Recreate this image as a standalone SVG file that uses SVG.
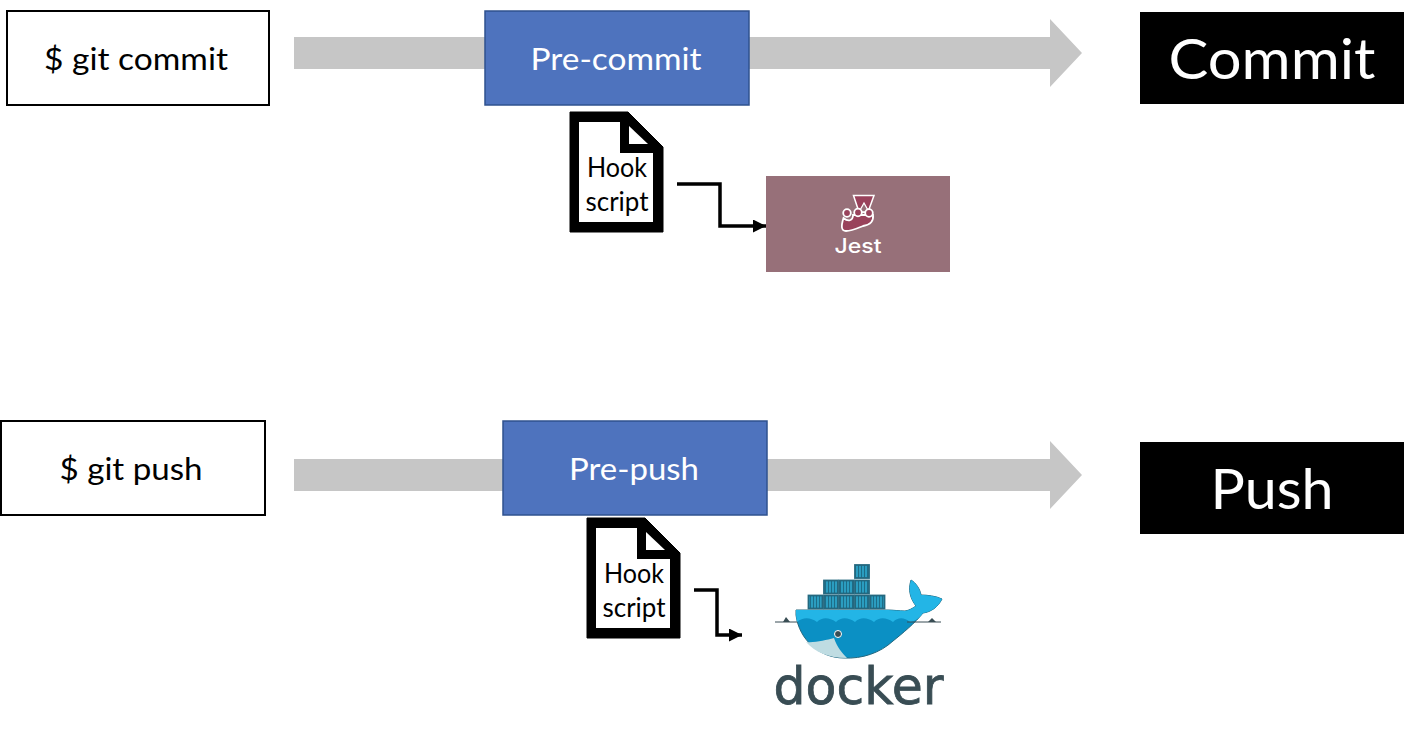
<svg xmlns="http://www.w3.org/2000/svg" width="1414" height="738" viewBox="0 0 1414 738">
<style>
text{font-family:Lato,"Open Sans","Noto Sans","Liberation Sans",sans-serif;text-anchor:middle}
.cmd{fill:#fff;stroke:#000;stroke-width:2}
.hook{fill:#4e73be;stroke:#2f528f;stroke-width:1.5}
.res{fill:#000}
.bar{fill:#c6c6c6}
.t{font-size:31px}
.w{fill:#fff}
.big{fill:#fff;font-size:57px}
.h{font-size:26px;fill:#000}
.elbow{fill:none;stroke:#000;stroke-width:3.5}
.frame{fill:#000;stroke:#000;stroke-width:1}
.c1{fill:url(#ribs);stroke:#24687f;stroke-width:1.800}
.boot{fill:#99425b;stroke:#fff;stroke-width:1.800}
</style>
<defs>
<marker id="ah" markerUnits="userSpaceOnUse" markerWidth="14" markerHeight="14" refX="13" refY="6.5" orient="auto"><path d="M0 0L13 6.5L0 13z" fill="#000"/></marker>
<pattern id="ribs" patternUnits="userSpaceOnUse" width="3" height="4"><rect width="3" height="4" fill="#2b9dc0"/><rect width="1" height="4" fill="#1d6d88"/></pattern>
<g id="doc">
<path class="frame" d="M0 0H58L93 35V120H0z"/>
<path fill="#fff" d="M9 10H50V41H83V110H9z"/>
<path fill="#fff" d="M59 14L78 32H59z"/>
</g>
</defs>

<g id="connectors">
<path class="bar" d="M294 37H1050V19L1082 53L1050 87V69H294z"/>
<path class="bar" d="M294 459H1050V441L1082 475L1050 509V491H294z"/>
<path class="elbow" d="M677 184H720V226H766" marker-end="url(#ah)"/>
<path class="elbow" d="M694 590H717V635H742" marker-end="url(#ah)"/>
</g>

<g id="git-commit"><rect class="cmd" x="7" y="11" width="262" height="94"/><text class="t" x="136" y="70" textLength="184" lengthAdjust="spacingAndGlyphs">$ git commit</text></g>
<g id="pre-commit"><rect class="hook" x="485" y="11" width="264" height="94"/><text class="t w" x="616" y="70" textLength="171" lengthAdjust="spacingAndGlyphs">Pre-commit</text></g>
<g id="commit"><rect class="res" x="1140" y="12" width="264" height="92"/><text class="big" x="1272" y="79" textLength="207" lengthAdjust="spacingAndGlyphs">Commit</text></g>

<g id="git-push"><rect class="cmd" x="1" y="421" width="264" height="94"/><text class="t" x="131" y="480" textLength="143" lengthAdjust="spacingAndGlyphs">$ git push</text></g>
<g id="pre-push"><rect class="hook" x="503" y="421" width="264" height="94"/><text class="t w" x="634" y="480" textLength="130" lengthAdjust="spacingAndGlyphs">Pre-push</text></g>
<g id="push"><rect class="res" x="1140" y="442" width="264" height="92"/><text class="big" x="1272" y="509" textLength="123" lengthAdjust="spacingAndGlyphs">Push</text></g>

<g id="hook-script-1"><use href="#doc" x="570" y="112"/><text class="h" x="617" y="177" textLength="60" lengthAdjust="spacingAndGlyphs">Hook</text><text class="h" x="617" y="211" textLength="63" lengthAdjust="spacingAndGlyphs">script</text></g>
<g id="hook-script-2"><use href="#doc" x="587" y="518"/><text class="h" x="634" y="583" textLength="60" lengthAdjust="spacingAndGlyphs">Hook</text><text class="h" x="634" y="617" textLength="63" lengthAdjust="spacingAndGlyphs">script</text></g>

<g id="jest">
<rect x="766" y="176" width="184" height="96" fill="#977079"/>
<path d="M853.500 195.500H874L868 212H859z" fill="#99425b" stroke="#fff" stroke-width="1.500"/>
<path d="M864 203L859 212H869z" fill="#977079" stroke="#fff" stroke-width="1.300"/>
<path class="boot" d="M843.500 218C841 226 841 231 846 231C852 231 858 228 863 226C869 225 874 222 873 215L853 215C853 221 848 222 843.500 218z"/>
<circle class="boot" cx="847" cy="213" r="3.800"/>
<circle class="boot" cx="858" cy="212.500" r="3.800"/>
<circle class="boot" cx="869" cy="213" r="3.800"/>
<text x="858" y="253" style="font-family:Inter,'Liberation Sans',sans-serif;font-size:20px;font-weight:500" fill="#fff" textLength="47" lengthAdjust="spacingAndGlyphs">Jest</text>
</g>

<g id="docker">
<g class="containers">
<rect class="c1" x="808.500" y="595.500" width="14" height="13"/><rect class="c1" x="824" y="595.500" width="14" height="13"/><rect class="c1" x="839.500" y="595.500" width="14" height="13"/><rect class="c1" x="855" y="595.500" width="14" height="13"/><rect class="c1" x="870.500" y="595.500" width="14" height="13"/>
<rect class="c1" x="824" y="580.500" width="14" height="13"/><rect class="c1" x="839.500" y="580.500" width="14" height="13"/><rect class="c1" x="855" y="580.500" width="14" height="13"/>
<rect class="c1" x="855" y="565" width="14" height="13"/>
</g>
<path d="M796 610H888C893 610 899 611 905 611C911 610 914 607 916 606C910 598 908 590 911 580C916 583 920 589 921 595C927 595 936 596 942 599C938 607 931 612 923 613C915 623 903 633 893 641C880 653 862 659 844 658C820 658 799 640 796 615z" fill="#0b90c4" stroke="#24687f" stroke-width="1"/>
<path d="M796 610H888C893 610 899 611 905 611C911 610 914 607 916 606C910 598 908 590 911 580C916 583 920 589 921 595C927 595 936 596 942 599C938 607 931 612 923 613C921 616 915 622 910 622C904 617 898 617 893 622C886 617 879 617 874 622C867 617 860 617 855 622C848 617 841 617 836 622C829 617 822 617 817 622C810 617 803 617 797 622C796 618 796 613 796 610z" fill="#23b5e6"/>
<path d="M806 642C815 643 826 640 834 638C837 647 842 653 847 658C828 658 815 652 806 642z" fill="#bfdce2"/>
<path d="M775 622H797M907 622H941" stroke="#394d54" stroke-width="1" fill="none"/>
<path d="M783 622L786 617L790 622zM928 622L932 618L936 622z" fill="#394d54"/>
<circle cx="838" cy="634" r="3.500" fill="#394d54" stroke="#fff" stroke-width="1"/>
<text x="858.500" y="704" style="font-family:'DejaVu Sans',sans-serif;font-size:52px" fill="#394d54" stroke="#394d54" stroke-width="0.800" textLength="170" lengthAdjust="spacingAndGlyphs">docker</text>
</g>
</svg>
